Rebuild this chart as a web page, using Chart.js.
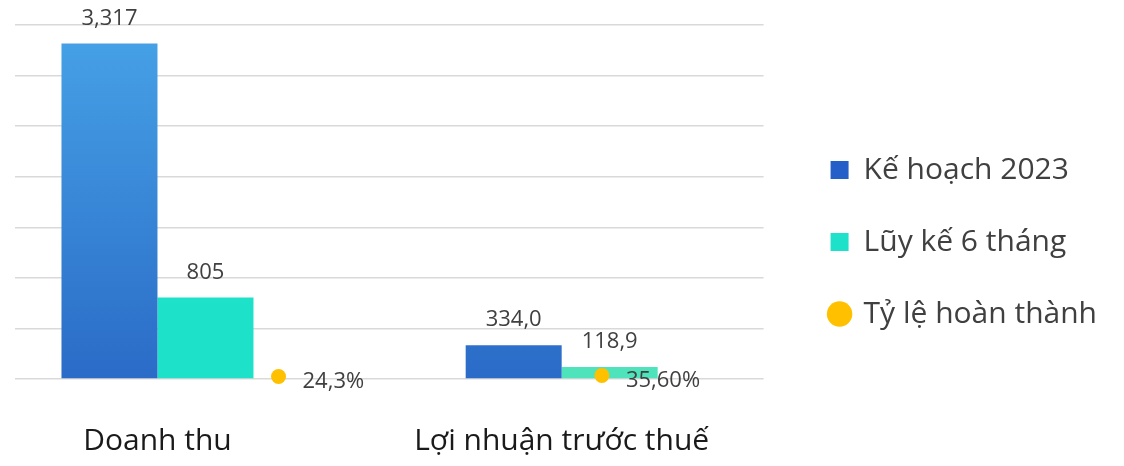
<!DOCTYPE html>
<html>
<head>
<meta charset="utf-8">
<script src="https://cdn.jsdelivr.net/npm/chart.js@4.4.0/dist/chart.umd.min.js"></script>
<style>
  html, body { margin: 0; background: #fff; }
  #wrap { width: 1124px; height: 466px; position: relative; }
</style>
</head>
<body>
<div id="wrap"><canvas id="chart"></canvas></div>
<script>
// ---------------------------
// DATA
// ---------------------------
const categories = ["Doanh thu", "Lợi nhuận trước thuế"];
const seriesNames = ["Kế hoạch 2023", "Lũy kế 6 tháng", "Tỷ lệ hoàn thành"];
const planValues = [3317, 334.0];
const actualValues = [805, 118.9];
const rateValues = [24.3, 35.6];
const planLabels = ["3,317", "334,0"];
const actualLabels = ["805", "118,9"];
const rateLabels = ["24,3%", "35,60%"];
const yTicks = [0, 500, 1000, 1500, 2000, 2500, 3000, 3500];

// ---------------------------
// HELPERS
// ---------------------------
const FONT = "'Open Sans', 'Noto Sans', sans-serif";
Chart.defaults.font.family = FONT;

function blueGradient(c){
  const chart = c.chart;
  const a = chart.chartArea;
  if(!a) return "#3a8ad8";
  const g = chart.ctx.createLinearGradient(0, a.top, 0, a.bottom);
  g.addColorStop(0, "#47a3e7");
  g.addColorStop(1, "#2a6bc7");
  return g;
}

// value labels above bars + percent labels next to dots
const valueLabels = {
  id: "valueLabels",
  afterDatasetsDraw(chart){
    const ctx = chart.ctx;
    ctx.save();
    ctx.font = "22px " + FONT;
    ctx.fillStyle = "#404040";
    [planLabels, actualLabels].forEach((texts, di)=>{
      chart.getDatasetMeta(di).data.forEach((bar, i)=>{
        ctx.textAlign = "center";
        ctx.textBaseline = "alphabetic";
        ctx.fillText(texts[i], bar.x, bar.y - 19);
      });
    });
    chart.getDatasetMeta(2).data.forEach((pt, i)=>{
      ctx.textAlign = "left";
      ctx.textBaseline = "middle";
      ctx.fillText(rateLabels[i], pt.x + 24, pt.y + 5);
    });
    ctx.restore();
  }
};

// ---------------------------
// CHART
// ---------------------------
new Chart(document.getElementById("chart"), {
  type: "bar",
  data: {
    datasets: [
      {
        label: seriesNames[0],
        data: planValues.map((v,i)=>({x:i, y:v})),
        backgroundColor: blueGradient,
        pointStyle: "rect",
        order: 1
      },
      {
        label: seriesNames[1],
        data: actualValues.map((v,i)=>({x:i, y:v})),
        backgroundColor: ["#1de1c8", "#4ee3bb"],
        pointStyle: "rect",
        order: 2
      },
      {
        // completion rate sits on its own (hidden) secondary x axis
        type: "line",
        label: seriesNames[2],
        data: rateValues.map((v,i)=>({x:i, y:v})),
        xAxisID: "x2",
        showLine: false,
        clip: false,
        pointStyle: "circle",
        pointRadius: 7.5,
        pointBackgroundColor: "#ffc000",
        pointBorderWidth: 0,
        backgroundColor: "#ffc000",
        borderColor: "#ffc000",
        order: 0
      }
    ]
  },
  options: {
    responsive: true,
    maintainAspectRatio: false,
    animation: false,
    layout: { padding: { left: 15, right: 17, top: 25, bottom: 7 } },
    datasets: { bar: { categoryPercentage: 0.95, barPercentage: 1 } },
    scales: {
      x: {
        type: "linear",
        offset: false,
        min: -0.590,
        max: 1.262,
        afterBuildTicks: (s)=>{ s.ticks = categories.map((c,i)=>({value:i})); },
        afterFit: (s)=>{ s.height = 80; s.paddingLeft = 0; s.paddingRight = 0; },
        grid: { display: false, drawTicks: false, offset: false },
        border: { display: false },
        ticks: {
          callback: (v)=>categories[v],
          autoSkip: false,
          maxRotation: 0,
          padding: 44,
          labelOffset: -96,
          color: "#1a1a1a",
          font: { size: 30 }
        }
      },
      x2: {
        type: "linear",
        display: false,
        offset: false,
        min: -0.815,
        max: 1.5
      },
      y: {
        min: 0,
        max: 3500,
        afterBuildTicks: (s)=>{ s.ticks = yTicks.map(v=>({value:v})); },
        grid: { color: "#d9d9d9", lineWidth: 1.5, drawTicks: false },
        border: { display: false },
        ticks: { display: false }
      },
      spacer: {
        type: "linear",
        position: "right",
        grid: { display: false, drawTicks: false },
        border: { display: false },
        ticks: { display: false },
        afterFit: (s)=>{ s.width = 25; }
      }
    },
    plugins: {
      legend: {
        position: "right",
        maxWidth: 420,
        labels: {
          usePointStyle: true,
          boxWidth: 18,
          boxHeight: 18,
          padding: 42,
          color: "#404040",
          font: { size: 30 },
          sort: (a,b)=>a.datasetIndex - b.datasetIndex,
          generateLabels: (chart)=>{
            const items = Chart.defaults.plugins.legend.labels.generateLabels(chart);
            items.forEach(it=>{
              if(it.datasetIndex === 0){ it.fillStyle = "#2460c8"; }
              it.strokeStyle = "rgba(0,0,0,0)";
              it.lineWidth = 0;
            });
            return items;
          }
        }
      },
      tooltip: { enabled: false }
    }
  },
  plugins: [valueLabels]
});
</script>
</body>
</html>
